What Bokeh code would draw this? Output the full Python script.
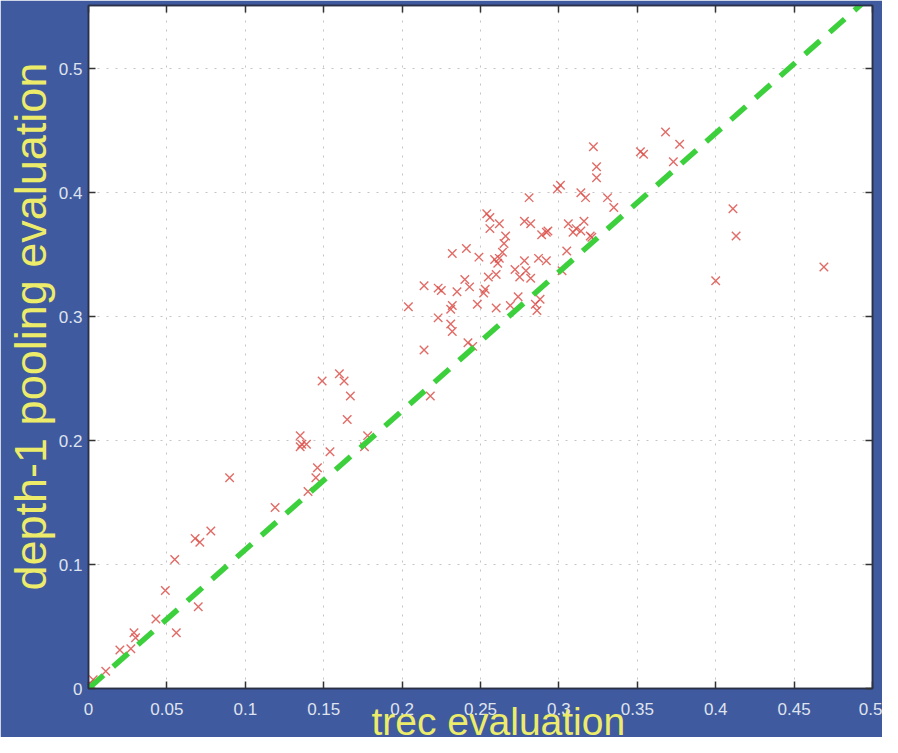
from bokeh.plotting import figure
from bokeh.models import FixedTicker, LinearAxis, Range1d, Title
from bokeh.embed import file_html
from bokeh.resources import INLINE

# ---------------- data ----------------
trec = [0.001, 0.003, 0.011, 0.020, 0.027, 0.029, 0.030, 0.043, 0.049, 0.056,
        0.055, 0.070, 0.068, 0.071, 0.078, 0.090,
        0.119, 0.135, 0.136, 0.139, 0.135, 0.140, 0.145, 0.146, 0.149, 0.154,
        0.160, 0.163, 0.167, 0.165, 0.176, 0.178,
        0.204, 0.214, 0.214, 0.218, 0.223, 0.225, 0.223, 0.232, 0.232, 0.231,
        0.231, 0.232, 0.235, 0.240, 0.241, 0.243, 0.242, 0.245, 0.248, 0.249,
        0.252, 0.253, 0.254, 0.256, 0.256, 0.255, 0.259, 0.260, 0.260, 0.261,
        0.262, 0.262, 0.264, 0.265, 0.266, 0.269, 0.272, 0.274, 0.275, 0.278,
        0.278, 0.279, 0.281, 0.282, 0.282, 0.285, 0.286, 0.287, 0.288, 0.289,
        0.292, 0.293, 0.292, 0.299, 0.301, 0.302, 0.305, 0.306, 0.309, 0.311,
        0.314, 0.316, 0.314, 0.317, 0.320, 0.321, 0.322, 0.324, 0.324, 0.331,
        0.335, 0.352, 0.354, 0.368, 0.373, 0.377, 0.400, 0.411, 0.413, 0.469]
depth1 = [0.004, 0.007, 0.014, 0.031, 0.032, 0.045, 0.041, 0.056, 0.079, 0.045,
          0.104, 0.066, 0.121, 0.118, 0.127, 0.170,
          0.146, 0.204, 0.197, 0.197, 0.195, 0.159, 0.170, 0.178, 0.248, 0.191,
          0.254, 0.248, 0.236, 0.217, 0.195, 0.204,
          0.308, 0.325, 0.273, 0.236, 0.323, 0.321, 0.299, 0.351, 0.309, 0.306,
          0.294, 0.288, 0.320, 0.330, 0.355, 0.324, 0.279, 0.276, 0.310, 0.348,
          0.319, 0.322, 0.383, 0.380, 0.371, 0.332, 0.346, 0.334, 0.307, 0.343,
          0.375, 0.347, 0.352, 0.359, 0.365, 0.309, 0.338, 0.316, 0.332, 0.377,
          0.345, 0.337, 0.396, 0.375, 0.331, 0.310, 0.305, 0.347, 0.314, 0.366,
          0.368, 0.369, 0.345, 0.403, 0.406, 0.337, 0.353, 0.375, 0.368, 0.371,
          0.369, 0.377, 0.400, 0.396, 0.365, 0.364, 0.437, 0.421, 0.412, 0.396,
          0.388, 0.433, 0.431, 0.449, 0.425, 0.439, 0.329, 0.387, 0.365, 0.340]

x_ticks = [0, 0.05, 0.1, 0.15, 0.2, 0.25, 0.3, 0.35, 0.4, 0.45, 0.5]
x_tick_labels = ["0", "0.05", "0.1", "0.15", "0.2", "0.25", "0.3", "0.35", "0.4", "0.45", "0.5"]
y_ticks = [0, 0.1, 0.2, 0.3, 0.4, 0.5]
y_tick_labels = ["0", "0.1", "0.2", "0.3", "0.4", "0.5"]

# reference (guide) line y = slope * x
guide_slope = 1.12
guide_x = [0.0, 0.5]

x_title = "trec evaluation"
y_title = "depth-1 pooling evaluation"

# ---------------- styling ----------------
BLUE = "#3f5a9e"
YELLOW = "#ecec6a"
TICK_TXT = "#dfe3ee"
RED = "#dc524c"
GREEN = "#3cd03c"
FRAME = "#2b3048"

p = figure(width=882, height=737, output_backend="svg", toolbar_location=None,
           x_range=Range1d(0, 0.5), y_range=Range1d(0, 0.551),
           min_border_left=88, min_border_right=10, min_border_top=5,
           min_border_bottom=49, x_axis_location=None, y_axis_location=None)
p.border_fill_color = BLUE
p.background_fill_color = "white"
p.outline_line_color = FRAME
p.outline_line_width = 1.5

xt = FixedTicker(ticks=x_ticks, minor_ticks=[])
yt = FixedTicker(ticks=y_ticks, minor_ticks=[])


def style_axis(ax, labels):
    ax.axis_line_color = FRAME
    ax.axis_line_width = 1.5
    ax.major_tick_in = 7
    ax.major_tick_out = 0
    ax.major_tick_line_color = "#333333"
    ax.major_tick_line_width = 1.5
    ax.minor_tick_line_color = None
    if labels is None:
        ax.major_label_text_color = None
        ax.major_label_text_font_size = "0px"
        ax.major_label_standoff = 0
    else:
        ax.major_label_overrides = labels
        ax.major_label_text_color = TICK_TXT
        ax.major_label_text_font = "Liberation Sans"
        ax.major_label_text_font_size = "17px"


xb = LinearAxis(ticker=xt)
style_axis(xb, dict(zip(x_ticks, x_tick_labels)))
xb.major_label_standoff = 14
p.add_layout(xb, "below")

yl = LinearAxis(ticker=yt)
style_axis(yl, dict(zip(y_ticks, y_tick_labels)))
yl.major_label_standoff = 6
yl.major_label_orientation = "horizontal"
p.add_layout(yl, "left")

xa = LinearAxis(ticker=xt)
style_axis(xa, None)
p.add_layout(xa, "above")
yr = LinearAxis(ticker=yt)
style_axis(yr, None)
p.add_layout(yr, "right")

# axis titles (placed as side titles so they can be offset like the original)
p.add_layout(Title(text=x_title, align="left", offset=283, vertical_align="middle",
                   standoff=-38, text_font="Liberation Sans", text_font_size="39px",
                   text_font_style="normal", text_color=YELLOW), "below")
p.add_layout(Title(text=y_title, align="left", offset=98, vertical_align="middle",
                   standoff=-3, text_font="Liberation Sans", text_font_size="45px",
                   text_font_style="normal", text_color=YELLOW), "left")

p.xgrid.ticker = xt
p.ygrid.ticker = yt
for g in (p.xgrid, p.ygrid):
    g.grid_line_color = "#c4c4c4"
    g.grid_line_dash = "2 7"
    g.grid_line_width = 1

p.scatter(trec, depth1, marker="x", size=12, line_color=RED, line_width=1.4,
          line_alpha=0.85)

guide_y = [guide_slope * v for v in guide_x]
p.line(guide_x, guide_y, line_color=GREEN, line_width=5.5, line_dash="20 13")

open("out.html", "w").write(file_html(p, INLINE))
